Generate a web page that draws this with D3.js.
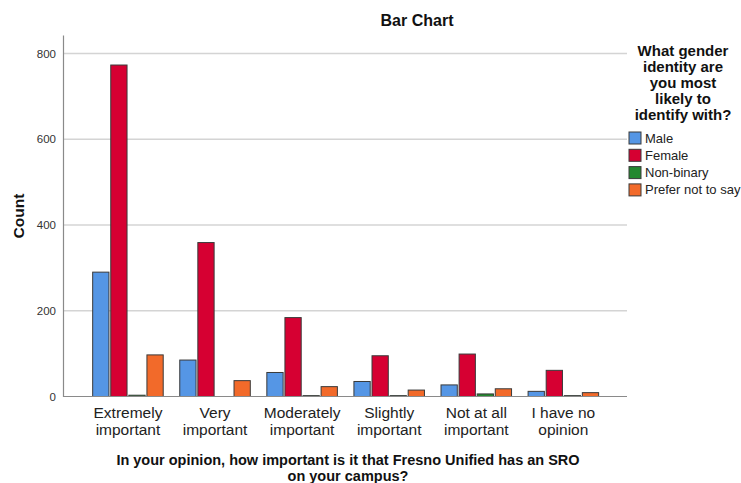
<!DOCTYPE html>
<html>
<head>
<meta charset="utf-8">
<script src="https://cdn.jsdelivr.net/npm/d3@7"></script>
<style>
  html, body { margin: 0; padding: 0; background: #fff; }
  svg { display: block; font-family: "Liberation Sans", Arial, sans-serif; }
</style>
</head>
<body>
<svg id="chart" width="741" height="483"></svg>
<script>
// Response categories (x axis), two-line labels
const categories = [
  ["Extremely", "important"],
  ["Very", "important"],
  ["Moderately", "important"],
  ["Slightly", "important"],
  ["Not at all", "important"],
  ["I have no", "opinion"]
];
const seriesNames = ["Male", "Female", "Non-binary", "Prefer not to say"];
const seriesColors = ["#5596e5", "#d60032", "#23882f", "#f26a2a"];

// Counts per category, one array per gender group
const male      = [290, 85, 56, 35, 27, 12];
const female    = [773, 359, 184, 95, 99, 61];
const nonBinary = [3, 0, 2, 2, 6, 2];
const preferNot = [97, 37, 23, 15, 18, 9];

const yTicks = [0, 200, 400, 600, 800];
const legendTitle = ["What gender", "identity are", "you most", "likely to", "identify with?"];
const xTitle = ["In your opinion, how important is it that Fresno Unified has an SRO", "on your campus?"];

const values = [male, female, nonBinary, preferNot];
const svg = d3.select("#chart");

const plot = { left: 63, right: 627, top: 35, bottom: 396.5 };

const x0 = d3.scaleBand()
  .domain(d3.range(categories.length))
  .range([84.4, 606.9])
  .paddingInner(0.19)
  .paddingOuter(0.095);

const x1 = d3.scaleBand()
  .domain(d3.range(seriesNames.length))
  .range([0, x0.bandwidth()])
  .paddingInner(0.1);

const y = d3.scaleLinear().domain([0, 843]).range([plot.bottom, plot.top]);

// gridlines
svg.append("g").selectAll("line")
  .data(yTicks.filter(d => d > 0))
  .join("line")
  .attr("x1", plot.left).attr("x2", plot.right)
  .attr("y1", d => y(d)).attr("y2", d => y(d))
  .attr("stroke", "#d4d4d4").attr("stroke-width", 1.5);

// y axis
const yAxis = svg.append("g")
  .attr("transform", `translate(${plot.left},0)`)
  .call(d3.axisLeft(y).tickValues(yTicks).tickSize(0).tickPadding(7));
yAxis.select(".domain").attr("stroke", "#8a8a8a").attr("stroke-width", 1.2);
yAxis.selectAll("text")
  .attr("font-size", 11.5).attr("fill", "#333")
  .attr("font-family", "Liberation Sans, Arial, sans-serif");

// bars
const groups = svg.append("g").selectAll("g")
  .data(categories.map((c, i) => i))
  .join("g")
  .attr("transform", i => `translate(${x0(i)},0)`);

groups.selectAll("rect")
  .data(i => values.map((arr, s) => ({ s, v: arr[i] })).filter(d => d.v > 0))
  .join("rect")
  .attr("x", d => x1(d.s))
  .attr("width", x1.bandwidth())
  .attr("y", d => y(d.v))
  .attr("height", d => y(0) - y(d.v))
  .attr("fill", d => seriesColors[d.s])
  .attr("stroke", "#3a3a3a")
  .attr("stroke-width", 1);

// x baseline
svg.append("line")
  .attr("x1", plot.left).attr("x2", plot.right)
  .attr("y1", plot.bottom).attr("y2", plot.bottom)
  .attr("stroke", "#8a8a8a").attr("stroke-width", 1.2);

// category labels
const catLabels = svg.append("g").selectAll("text")
  .data(categories)
  .join("text")
  .attr("text-anchor", "middle")
  .attr("font-size", 15.5).attr("fill", "#222")
  .attr("transform", (d, i) => `translate(${x0(i) + x0.bandwidth() / 2},418)`);
catLabels.selectAll("tspan")
  .data(d => d)
  .join("tspan")
  .attr("x", 0)
  .attr("dy", (d, i) => i === 0 ? 0 : 16.5)
  .text(d => d);

// x axis title
svg.append("text")
  .attr("text-anchor", "middle")
  .attr("font-size", 14.5).attr("font-weight", "bold").attr("fill", "#111")
  .selectAll("tspan")
  .data(xTitle)
  .join("tspan")
  .attr("x", 348)
  .attr("y", (d, i) => 465 + i * 16)
  .text(d => d);

// y axis title
svg.append("text")
  .attr("transform", "translate(24,216) rotate(-90)")
  .attr("text-anchor", "middle")
  .attr("font-size", 15.5).attr("font-weight", "bold").attr("fill", "#111")
  .text("Count");

// chart title
svg.append("text")
  .attr("x", 417).attr("y", 26)
  .attr("text-anchor", "middle")
  .attr("font-size", 16).attr("font-weight", "bold").attr("fill", "#111")
  .text("Bar Chart");

// legend
const legend = svg.append("g");
legend.append("text")
  .attr("text-anchor", "middle")
  .attr("font-size", 15).attr("font-weight", "bold").attr("fill", "#111")
  .selectAll("tspan")
  .data(legendTitle)
  .join("tspan")
  .attr("x", 683)
  .attr("y", (d, i) => 56 + i * 16)
  .text(d => d);

const items = legend.selectAll("g.item")
  .data(seriesNames)
  .join("g")
  .attr("class", "item")
  .attr("transform", (d, i) => `translate(629,${132 + i * 17.3})`);
items.append("rect")
  .attr("width", 12).attr("height", 12)
  .attr("fill", (d, i) => seriesColors[i])
  .attr("stroke", "#3a3a3a").attr("stroke-width", 1);
items.append("text")
  .attr("x", 16).attr("y", 10.5)
  .attr("font-size", 13).attr("fill", "#222")
  .text(d => d);
</script>
</body>
</html>
